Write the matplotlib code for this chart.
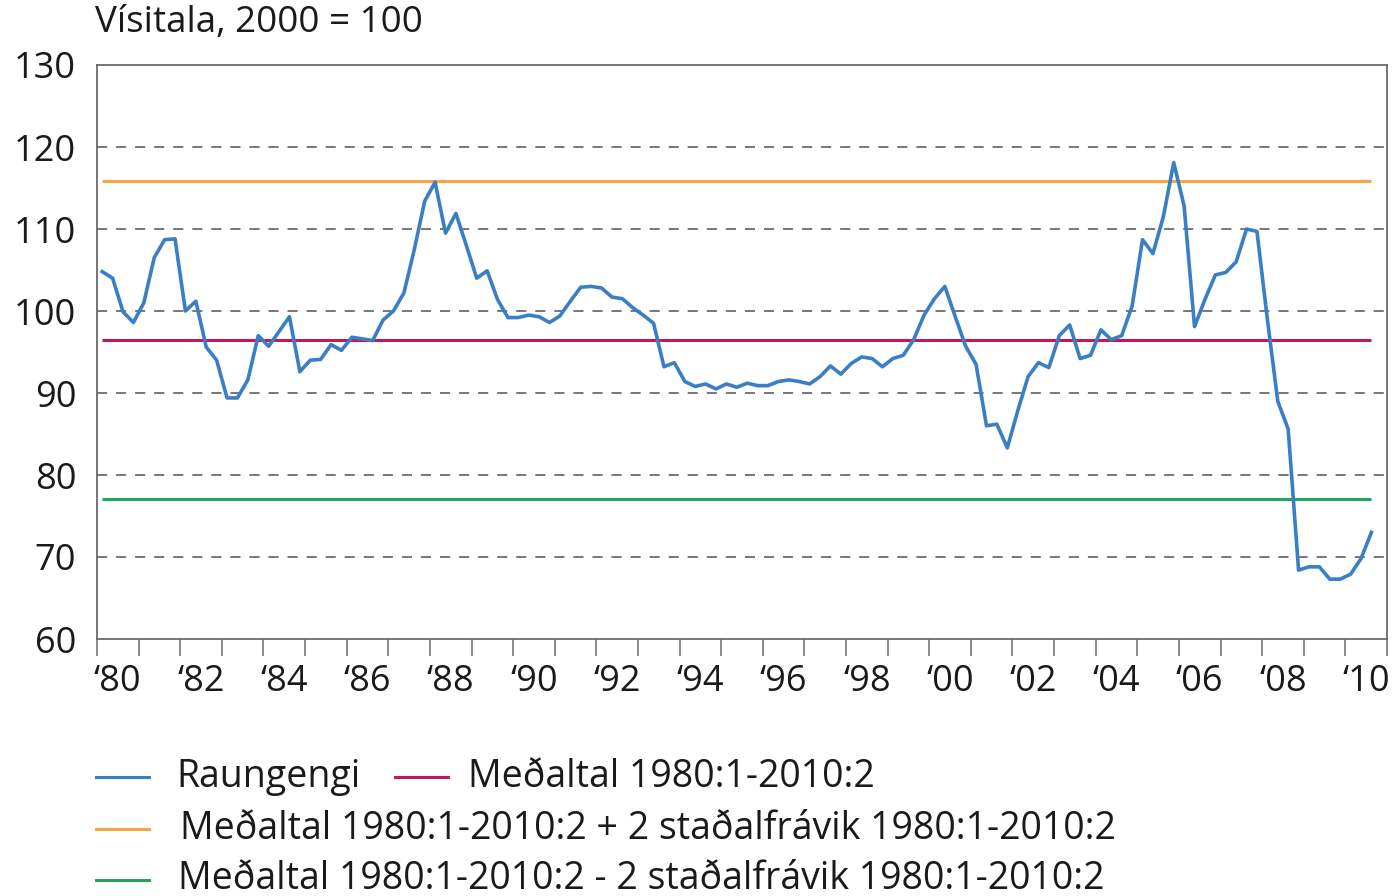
import numpy as np
import matplotlib
matplotlib.use("Agg")
import matplotlib.pyplot as plt
from matplotlib.lines import Line2D

plt.rcParams['font.family'] = ['Open Sans', 'DejaVu Sans']

title = "Vísitala, 2000 = 100"
series_label = "Raungengi"
mean_label = "Meðaltal 1980:1-2010:2"
upper_label = "Meðaltal 1980:1-2010:2 + 2 staðalfrávik 1980:1-2010:2"
lower_label = "Meðaltal 1980:1-2010:2 - 2 staðalfrávik 1980:1-2010:2"

# quarterly real exchange rate, 1980:1 onwards
raungengi = [
    104.8, 104.0, 99.9, 98.6, 101.0, 106.5, 108.7, 108.8,
    100.0, 101.2, 95.6, 94.0, 89.4, 89.4, 91.6, 97.0,
    95.7, 97.5, 99.3, 92.6, 94.0, 94.1, 95.9, 95.2,
    96.8, 96.6, 96.4, 98.9, 100.0, 102.2, 107.5, 113.4,
    115.7, 109.5, 111.9, 108.0, 104.0, 104.9, 101.4, 99.2,
    99.2, 99.5, 99.3, 98.6, 99.4, 101.2, 102.9, 103.0,
    102.8, 101.7, 101.5, 100.4, 99.5, 98.5, 93.2, 93.7,
    91.4, 90.8, 91.1, 90.5, 91.1, 90.7, 91.2, 90.9,
    90.9, 91.4, 91.6, 91.4, 91.1, 92.0, 93.3, 92.3,
    93.6, 94.4, 94.2, 93.2, 94.2, 94.6, 96.5, 99.5,
    101.5, 103.0, 99.3, 95.7, 93.5, 86.0, 86.2, 83.3,
    87.8, 92.0, 93.7, 93.1, 97.0, 98.3, 94.2, 94.6,
    97.7, 96.5, 97.0, 100.6, 108.7, 107.0, 111.5, 118.1,
    112.8, 98.1, 101.4, 104.4, 104.7, 106.0, 110.0, 109.7,
    99.0, 89.0, 85.6, 68.4, 68.8, 68.8, 67.3, 67.3,
    67.9, 69.8, 73.0,
]
mean_value = 96.5
upper_value = 115.9
lower_value = 77.1

years = list(range(1980, 2011))
label_years = years[::2]
year_labels = ["\u2018" + str(y)[2:] for y in label_years]
y_ticks = [60, 70, 80, 90, 100, 110, 120, 130]

W, H = 1395, 896
fig = plt.figure(figsize=(W / 100, H / 100), dpi=100)
ax_l, ax_r, ax_t, ax_b = 97, 1387, 65, 639
ax = fig.add_axes([ax_l / W, 1 - ax_b / H, (ax_r - ax_l) / W, (ax_b - ax_t) / H])

n = len(raungengi)
x = np.arange(n)
n_quarters = 4 * len(years)
ax.set_xlim(-0.5, n_quarters - 0.5)
ax.set_ylim(60, 130)

blue = "#3A7FC6"
magenta = "#C0175F"
orange = "#F8A543"
green = "#20A85A"

ax.plot(x, [upper_value] * n, color=orange, lw=2.2, solid_capstyle='butt', zorder=3)
ax.plot(x, [lower_value] * n, color=green, lw=2.2, solid_capstyle='butt', zorder=3)
ax.plot(x, [mean_value] * n, color=magenta, lw=2.2, solid_capstyle='butt', zorder=3)
ax.plot(x, raungengi, color=blue, lw=2.6, zorder=4)

for yv in y_ticks[1:-1]:
    ax.axhline(yv, color="#777777", lw=1.4, ls=(0, (5.2, 4.6)), zorder=1)

ax.set_yticks(y_ticks)
ax.set_yticklabels([str(v) for v in y_ticks])
ax.tick_params(axis='y', length=0, pad=15, labelsize=26, colors="#1a1a1a")

# tick marks at year boundaries, labels centred in every second year
bounds = [4 * i - 0.5 for i in range(len(years) + 1)]
centres = [4 * (y - 1980) + 1.5 for y in label_years]
ax.set_xticks(bounds)
ax.set_xticklabels([])
ax.set_xticks(centres, minor=True)
ax.set_xticklabels(year_labels, minor=True)
ax.tick_params(axis='x', which='major', direction='out', length=12.5, width=1.2,
               color="#777777")
ax.tick_params(axis='x', which='minor', length=0, pad=18, labelsize=26,
               labelcolor="#1a1a1a")

for s in ax.spines.values():
    s.set_color("#6a6a6a")
    s.set_linewidth(1.3)

fig.text(95 / W, 1 - 32 / H, title, fontsize=26.5, ha='left', va='baseline', color="#1a1a1a")

# legend
def handle(xa, xb, yp, c):
    fig.add_artist(Line2D([xa / W, xb / W], [1 - yp / H, 1 - yp / H], color=c, lw=2.2,
                          transform=fig.transFigure))

def label(xp, yp, s):
    fig.text(xp / W, 1 - yp / H, s, fontsize=27, ha='left', va='baseline', color="#1a1a1a")

handle(96, 149, 777, blue)
label(176, 787, series_label)
handle(395, 448, 777, magenta)
label(468, 787, mean_label)
handle(96, 149, 829, orange)
label(180, 839, upper_label)
handle(96, 149, 880, green)
label(178, 889, lower_label)

fig.savefig("out.png", dpi=100)
